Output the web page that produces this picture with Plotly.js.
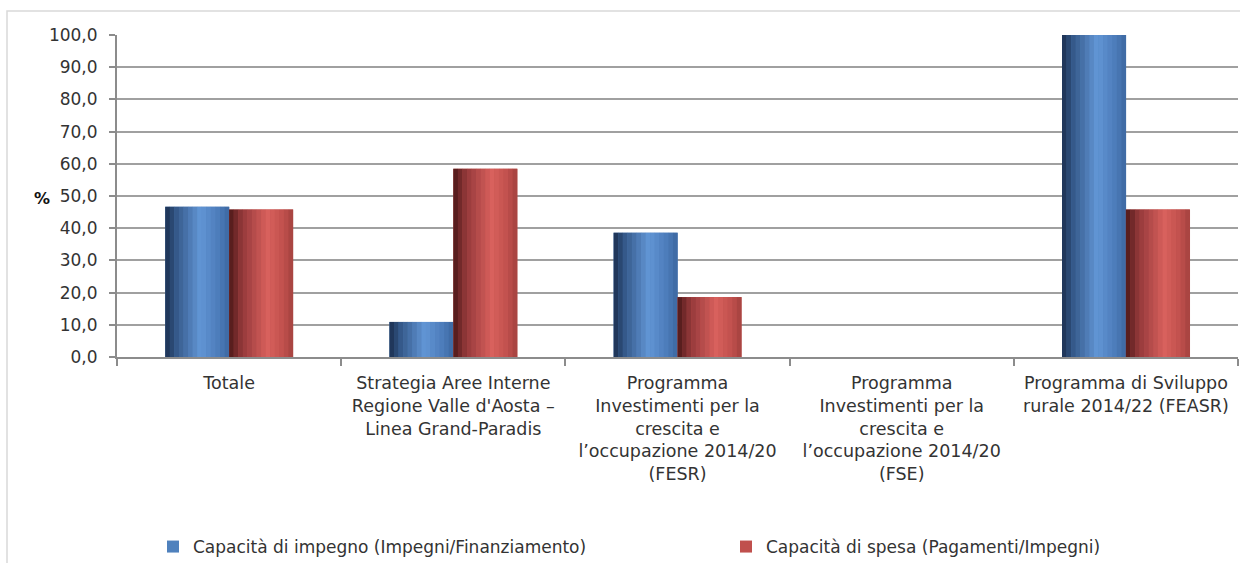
<!DOCTYPE html>
<html>
<head>
<meta charset="utf-8">
<script src="https://cdn.plot.ly/plotly-3.0.1.min.js"></script>
<style>html,body{margin:0;padding:0;background:#fff;}#chart{width:1240px;height:563px;}</style>
</head>
<body>
<div id="chart"></div>
<script>
const categories = [
  "Totale",
  "Strategia Aree Interne<br>Regione Valle d'Aosta –<br>Linea Grand-Paradis",
  "Programma<br>Investimenti per la<br>crescita e<br>l’occupazione 2014/20<br>(FESR)",
  "Programma<br>Investimenti per la<br>crescita e<br>l’occupazione 2014/20<br>(FSE)",
  "Programma di Sviluppo<br>rurale 2014/22 (FEASR)"
];
const seriesNames = [
  "Capacità di impegno (Impegni/Finanziamento)",
  "Capacità di spesa (Pagamenti/Impegni)"
];
const impegno = [46.7, 10.9, 38.6, 0, 100];
const spesa = [45.8, 58.5, 18.6, 0, 45.8];

const FONT = "DejaVu Sans, Liberation Sans, sans-serif";
const TXT = '#333333';
const BW = 0.285;
const N = 14;

function hex(c){return [parseInt(c.slice(1,3),16),parseInt(c.slice(3,5),16),parseInt(c.slice(5,7),16)];}
function interp(stops,t){
  for(let i=0;i<stops.length-1;i++){
    const a=stops[i],b=stops[i+1];
    if(t>=a[0]&&t<=b[0]){
      const f=(t-a[0])/(b[0]-a[0]);const ca=hex(a[1]),cb=hex(b[1]);
      return 'rgb('+ca.map((v,k)=>Math.round(v+(cb[k]-v)*f)).join(',')+')';
    }
  }
  return stops[stops.length-1][1];
}
const blueStops=[[0,'#1b2f4f'],[0.18,'#35598a'],[0.55,'#6296d6'],[0.85,'#4b7ab8'],[1,'#3d67a0']];
const redStops=[[0,'#4c1818'],[0.2,'#93383a'],[0.6,'#d9615d'],[0.85,'#c0504d'],[1,'#a3413e']];

const traces=[];
function addSeries(name, vals, baseOffset, base, stops, leg){
  traces.push({type:'bar',x:categories,y:vals,name:name,offset:baseOffset,width:BW,legend:leg,
    marker:{color:base,line:{width:0}},hoverinfo:'skip',showlegend:true});
  for(let i=0;i<N;i++){
    traces.push({type:'bar',x:categories,y:vals,offset:baseOffset+BW*i/N,width:BW/N+0.001,
      marker:{color:interp(stops,(i+0.5)/N),line:{width:0}},showlegend:false,hoverinfo:'skip'});
  }
}
addSeries(seriesNames[0], impegno, -BW, '#4f81bd', blueStops, 'legend');
addSeries(seriesNames[1], spesa, 0, '#c0504d', redStops, 'legend2');

const L=117,R=2,T=35,B=206;
const pw=1240-L-R, ph=563-T-B;
const legY=-(547-357)/ph;
const legCommon={orientation:'h',xanchor:'left',yanchor:'middle',y:legY,
  font:{family:FONT,size:17,color:TXT},itemwidth:30,bgcolor:'rgba(0,0,0,0)'};
const layout={
  width:1240,height:563,
  margin:{l:L,r:R,t:T,b:B,pad:0,autoexpand:false},
  paper_bgcolor:'#fff',plot_bgcolor:'#fff',
  barmode:'overlay',
  separators:',.',
  font:{family:FONT,color:TXT,size:17},
  xaxis:{type:'category',showgrid:false,showline:true,linecolor:'#8c8c8c',linewidth:2,
    ticks:'outside',tickson:'boundaries',ticklen:7,tickcolor:'#8c8c8c',tickwidth:2,ticklabelstandoff:9,
    tickfont:{family:FONT,size:17.5,color:TXT},fixedrange:true,zeroline:false,automargin:false},
  yaxis:{range:[0,100],dtick:10,tickformat:'.1f',showgrid:true,gridcolor:'#a0a0a0',gridwidth:2,
    showline:true,linecolor:'#8c8c8c',linewidth:2,ticks:'outside',ticklen:6,tickcolor:'#8c8c8c',tickwidth:2,
    ticklabelstandoff:8,
    tickfont:{family:FONT,size:17,color:TXT},zeroline:false,fixedrange:true,automargin:false},
  legend:Object.assign({},legCommon,{x:(153-L)/pw}),
  legend2:Object.assign({},legCommon,{x:(726-L)/pw}),
  annotations:[{text:'<b>%</b>',xref:'paper',yref:'paper',x:(42-L)/pw,xanchor:'center',y:(357-198)/ph,
    showarrow:false,font:{family:FONT,size:16,color:'#111'}}],
  shapes:[{type:'rect',xref:'paper',yref:'paper',x0:(7-L)/pw,x1:(1250-L)/pw,y0:(357-570)/ph,y1:(357-11)/ph,
    line:{color:'#d9d9d9',width:1.5},fillcolor:'rgba(0,0,0,0)',layer:'below'}]
};
Plotly.newPlot('chart',traces,layout,{displayModeBar:false,staticPlot:true});
</script>
</body>
</html>
